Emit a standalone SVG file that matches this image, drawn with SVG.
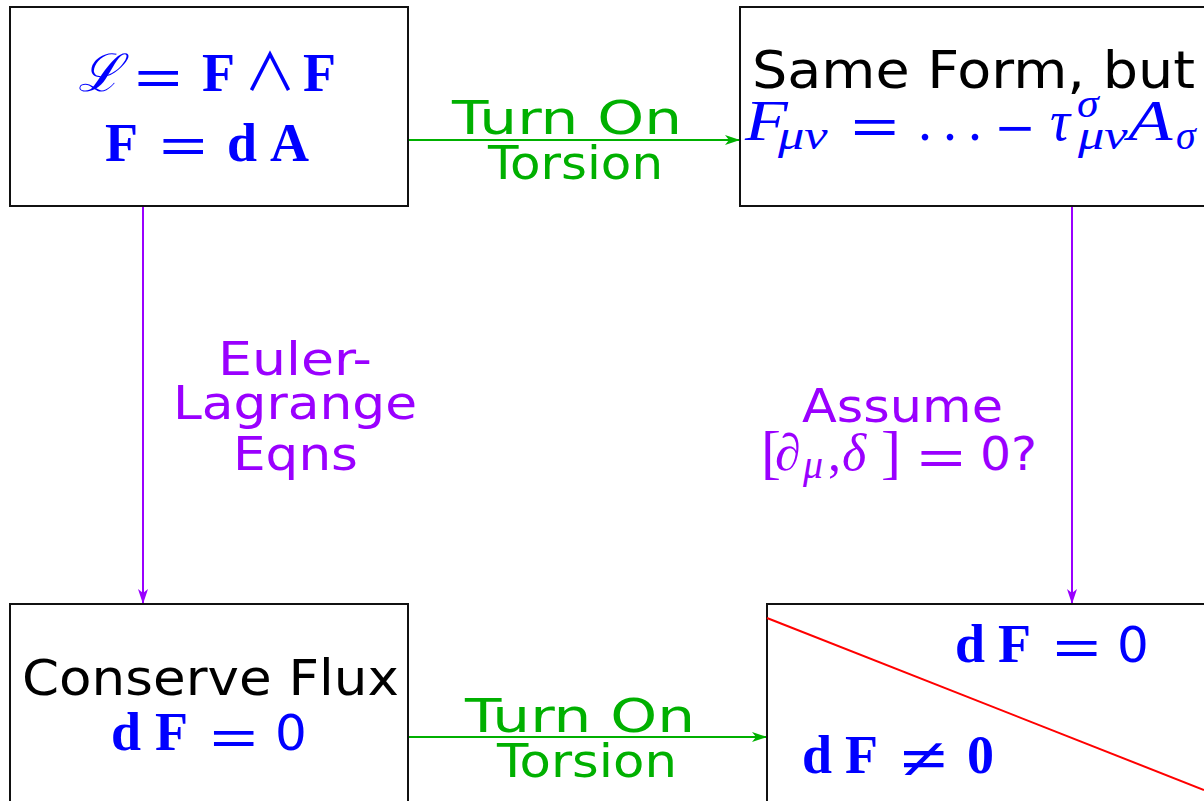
<svg xmlns="http://www.w3.org/2000/svg" width="1204" height="801" viewBox="0 0 1204 801">
<style>
.box{fill:#ffffff;stroke:#111111;stroke-width:2}
.sans{font-family:"DejaVu Sans","Liberation Sans",sans-serif}
.serif{font-family:"Liberation Serif","DejaVu Serif",serif}
.bf{font-family:"Liberation Serif","DejaVu Serif",serif;font-weight:bold;font-size:54px}
.it{font-family:"Liberation Serif","DejaVu Serif",serif;font-style:italic}
.eq{font-family:"Liberation Serif","DejaVu Serif",serif;font-weight:bold;font-size:50px;text-anchor:middle}
.blue{fill:#0000ff}
.green{fill:#00b000}
.purple{fill:#9a00ff}
.black{fill:#000000}
</style>
<defs>
<marker id="ahg" viewBox="0 0 15 10" refX="15" refY="5" markerWidth="15" markerHeight="10" markerUnits="userSpaceOnUse" orient="auto"><path d="M0,0 L15,5 L0,10 L4,5 z" fill="#00b000"/></marker>
<marker id="ahp" viewBox="0 0 15 10" refX="15" refY="5" markerWidth="15" markerHeight="10" markerUnits="userSpaceOnUse" orient="auto"><path d="M0,0 L15,5 L0,10 L4,5 z" fill="#9a00ff"/></marker>
</defs>
<rect width="1204" height="801" fill="#ffffff"/>

<g id="connectors">
<line x1="409" y1="140" x2="740" y2="140" stroke="#00b000" stroke-width="2" marker-end="url(#ahg)"/>
<line x1="409" y1="737" x2="767" y2="737" stroke="#00b000" stroke-width="2" marker-end="url(#ahg)"/>
<line x1="143" y1="207" x2="143" y2="604" stroke="#9a00ff" stroke-width="2" marker-end="url(#ahp)"/>
<line x1="1072" y1="207" x2="1072" y2="604" stroke="#9a00ff" stroke-width="2" marker-end="url(#ahp)"/>
<text class="sans green" font-size="47" x="452" y="134" textLength="230" lengthAdjust="spacingAndGlyphs">Turn On</text>
<text class="sans green" font-size="47" x="488" y="179" textLength="175" lengthAdjust="spacingAndGlyphs">Torsion</text>
<text class="sans green" font-size="47" x="465" y="732" textLength="230" lengthAdjust="spacingAndGlyphs">Turn On</text>
<text class="sans green" font-size="47" x="497" y="777" textLength="180" lengthAdjust="spacingAndGlyphs">Torsion</text>
<text class="sans purple" font-size="46" x="218" y="375" textLength="154" lengthAdjust="spacingAndGlyphs">Euler-</text>
<text class="sans purple" font-size="46" x="173" y="419" textLength="244" lengthAdjust="spacingAndGlyphs">Lagrange</text>
<text class="sans purple" font-size="46" x="233" y="470" textLength="125" lengthAdjust="spacingAndGlyphs">Eqns</text>
<text class="sans purple" font-size="47" x="802" y="422" textLength="201" lengthAdjust="spacingAndGlyphs">Assume</text>
<text class="serif purple" font-size="60" x="761" y="472">[</text>
<text class="it purple" font-size="52" x="775" y="470">∂</text>
<text class="it purple" font-size="40" x="803" y="478">μ</text>
<text class="serif purple" font-size="52" x="828" y="470">,</text>
<text class="it purple" font-size="52" x="842" y="470">δ</text>
<text class="serif purple" font-size="60" x="881" y="472">]</text>
<text class="eq purple" transform="translate(941.5,476) scale(1.7,1.1)">=</text>
<text class="sans purple" font-size="47" x="980" y="470" textLength="57" lengthAdjust="spacingAndGlyphs">0?</text>
</g>

<g id="node-lagrangian">
<rect class="box" x="10" y="7" width="398" height="199"/>
<text class="blue" font-family="DejaVu Serif, serif" font-style="italic" font-size="52" x="78" y="91">ℒ</text>
<text class="eq blue" transform="translate(158.5,96) scale(1.7,1.1)">=</text>
<text class="bf blue" x="202" y="91">F</text>
<text class="blue" font-family="'Noto Sans CJK JP', 'DejaVu Sans', sans-serif" font-size="52" text-anchor="middle" x="270" y="91">∧</text>
<text class="bf blue" x="303" y="91">F</text>
<text class="bf blue" x="105" y="161">F</text>
<text class="eq blue" transform="translate(183.5,164) scale(1.7,1.1)">=</text>
<text class="bf blue" x="227" y="161">d</text>
<text class="bf blue" x="270" y="161">A</text>
</g>

<g id="node-sameform">
<rect class="box" x="740" y="7" width="470" height="199"/>
<text class="sans black" font-size="51" x="752" y="88" textLength="443" lengthAdjust="spacingAndGlyphs">Same Form, but</text>
<text class="it blue" font-size="56" transform="translate(745,140) scale(1.25,1)">F</text>
<text class="it blue" font-size="42" transform="translate(778,149) scale(1.25,1)">μν</text>
<text class="eq blue" transform="translate(875,145) scale(1.7,1.1)">=</text>
<text class="serif blue" font-size="56" x="918" y="140">.</text>
<text class="serif blue" font-size="56" x="943" y="140">.</text>
<text class="serif blue" font-size="56" x="968" y="140">.</text>
<text class="eq blue" transform="translate(1015,146.5) scale(1.35,1.1)">−</text>
<text class="it blue" font-size="56" x="1050" y="140">τ</text>
<text class="it blue" font-size="40" transform="translate(1077,117) scale(1.1,1)">σ</text>
<text class="it blue" font-size="42" transform="translate(1078,149) scale(1.25,1)">μν</text>
<text class="it blue" font-size="56" transform="translate(1128,140) scale(1.3,1)">A</text>
<text class="it blue" font-size="40" x="1176" y="149">σ</text>
</g>

<g id="node-conserve">
<rect class="box" x="10" y="604" width="398" height="210"/>
<text class="sans black" font-size="50" x="22" y="695" textLength="377" lengthAdjust="spacingAndGlyphs">Conserve Flux</text>
<text class="bf blue" x="111" y="750">d</text>
<text class="bf blue" x="155" y="750">F</text>
<text class="eq blue" transform="translate(234,756) scale(1.7,1.1)">=</text>
<text class="sans blue" font-size="50" x="275" y="750">0</text>
</g>

<g id="node-result">
<rect class="box" x="767" y="604" width="450" height="210"/>
<line x1="767" y1="618" x2="1204" y2="790" stroke="#ff0000" stroke-width="2"/>
<text class="bf blue" x="955" y="662">d</text>
<text class="bf blue" x="998" y="662">F</text>
<text class="eq blue" transform="translate(1077,666) scale(1.7,1.1)">=</text>
<text class="sans blue" font-size="50" x="1117" y="662">0</text>
<text class="bf blue" x="802" y="773">d</text>
<text class="bf blue" x="845" y="773">F</text>
<text class="eq blue" transform="translate(924,779) scale(1.7,1.2)">≠</text>
<text class="bf blue" x="967" y="773">0</text>
</g>
</svg>
